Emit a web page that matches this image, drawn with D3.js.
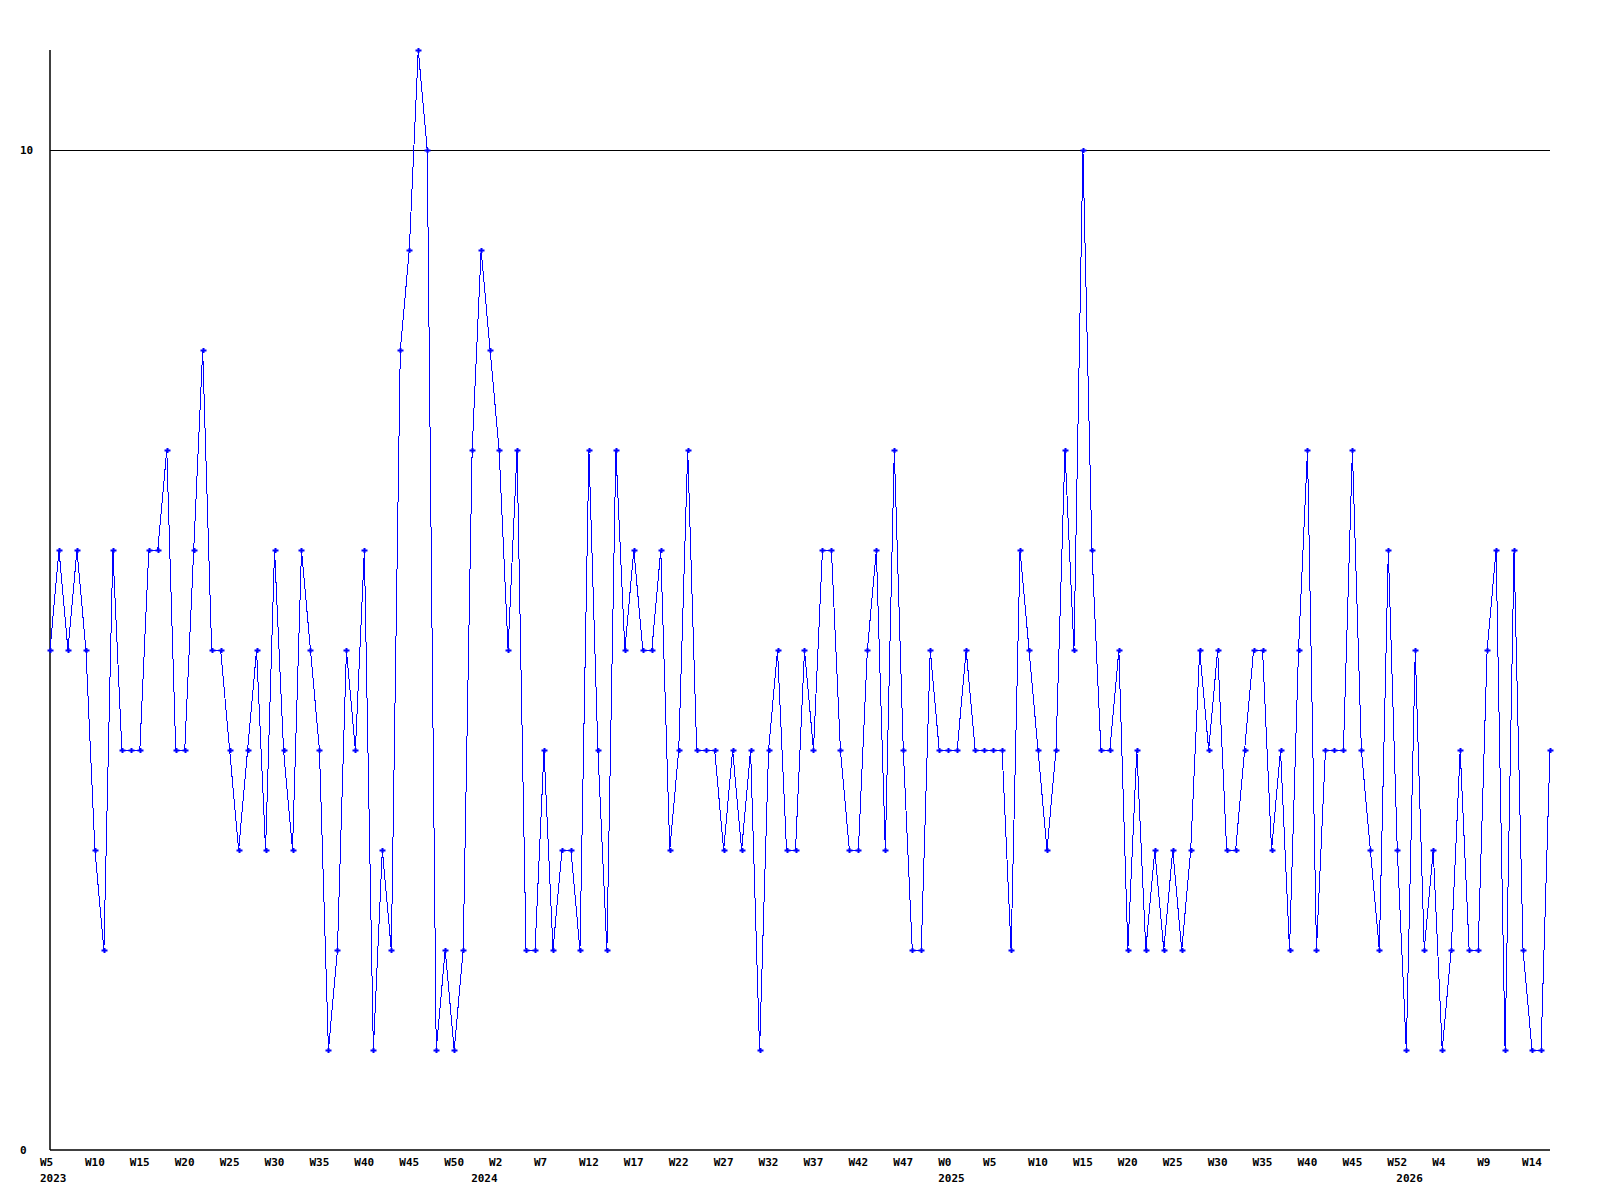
<!DOCTYPE html>
<html>
<head>
<meta charset="utf-8">
<script src="https://cdn.jsdelivr.net/npm/d3@7"></script>
<style>
  html, body { margin: 0; padding: 0; background: #fff; }
  svg { display: block; }
  text { font-family: "DejaVu Sans Mono", monospace; font-weight: bold; font-size: 11px; fill: #000; }
</style>
</head>
<body>
<svg id="chart" width="1600" height="1200"></svg>
<script>
// Weekly values, one per week starting at 2023 W5
const values = [
  5,6,5,6,5,3,2,6,4,4,
  4,6,6,7,4,4,6,8,5,5,
  4,3,4,5,3,6,4,3,6,5,
  4,1,2,5,4,6,1,3,2,8,
  9,11,10,1,2,1,2,7,9,8,
  7,5,7,2,2,4,2,3,3,2,
  7,4,2,7,5,6,5,5,6,3,
  4,7,4,4,4,3,4,3,4,1,
  4,5,3,3,5,4,6,6,4,3,
  3,5,6,3,7,4,2,2,5,4,
  4,4,5,4,4,4,4,2,6,5,
  4,3,4,7,5,10,6,4,4,5,
  2,4,2,3,2,3,2,3,5,4,
  5,3,3,4,5,5,3,4,2,5,
  7,2,4,4,4,7,4,3,2,6,
  3,1,5,2,3,1,2,4,2,2,
  5,6,1,6,2,1,1,4
];

// Week tick labels (every 5th week, index into values)
const weekTickIndex = [0,5,10,15,20,25,30,35,40,45,50,55,60,65,70,75,80,85,90,95,100,105,110,115,120,125,130,135,140,145,150,155,160,165];
const weekTickLabels = ["W5","W10","W15","W20","W25","W30","W35","W40","W45","W50",
  "W2","W7","W12","W17","W22","W27","W32","W37","W42","W47",
  "W0","W5","W10","W15","W20","W25","W30","W35","W40","W45",
  "W52","W4","W9","W14"];

// Year labels at the first week of each year
const yearIndex = [0, 48, 100, 151];
const yearLabels = ["2023", "2024", "2025", "2026"];

// Y ticks
const yTicks = [0, 10];
const yMax = 11;

(function () {
const svg = d3.select("#chart");
const mLeft = 50, mRight = 1550, mTop = 50, mBottom = 1150;

const x = d3.scaleLinear().domain([0, values.length - 1]).range([mLeft, mRight]);
const y = d3.scaleLinear().domain([0, yMax]).range([mBottom, mTop]);

// Gridline at 10
svg.selectAll("line.grid").data(yTicks.filter(d => d > 0)).join("line")
  .attr("class", "grid")
  .attr("x1", mLeft).attr("x2", mRight)
  .attr("y1", d => Math.round(y(d)) + 0.5).attr("y2", d => Math.round(y(d)) + 0.5)
  .attr("stroke", "#000").attr("stroke-width", 1)
  .attr("shape-rendering", "crispEdges");

// Axes lines
svg.append("line")
  .attr("x1", mLeft).attr("x2", mLeft).attr("y1", mTop).attr("y2", mBottom)
  .attr("stroke", "#000").attr("stroke-width", 1.5);
svg.append("line")
  .attr("x1", mLeft).attr("x2", mRight).attr("y1", mBottom).attr("y2", mBottom)
  .attr("stroke", "#000").attr("stroke-width", 1.5);

// Y labels
svg.selectAll("text.ylab").data(yTicks).join("text")
  .attr("class", "ylab")
  .attr("x", 20)
  .attr("y", d => y(d) + 4)
  .text(d => d);

// X week labels
svg.selectAll("text.xlab").data(weekTickIndex).join("text")
  .attr("class", "xlab")
  .attr("x", d => x(d) - 10)
  .attr("y", 1166)
  .text((d, i) => weekTickLabels[i]);

// Year labels
svg.selectAll("text.year").data(yearIndex).join("text")
  .attr("class", "year")
  .attr("x", d => x(d) - 10)
  .attr("y", 1182)
  .text((d, i) => yearLabels[i]);

// Data line
const line = d3.line().x((d, i) => x(i)).y(d => y(d));
svg.append("path")
  .datum(values)
  .attr("d", line)
  .attr("fill", "none")
  .attr("stroke", "#0000ff")
  .attr("stroke-width", 1)
  .attr("shape-rendering", "crispEdges");

// Point markers
svg.selectAll("path.pt").data(values).join("path")
  .attr("class", "pt")
  .attr("transform", (d, i) => `translate(${Math.round(x(i)) + 0.5},${Math.round(y(d)) + 0.5})`)
  .attr("d", "M-3,0H3M0,-2.5V2.5")
  .attr("stroke", "#0000ff")
  .attr("stroke-width", 2)
  .attr("fill", "none");
})();
</script>
</body>
</html>
